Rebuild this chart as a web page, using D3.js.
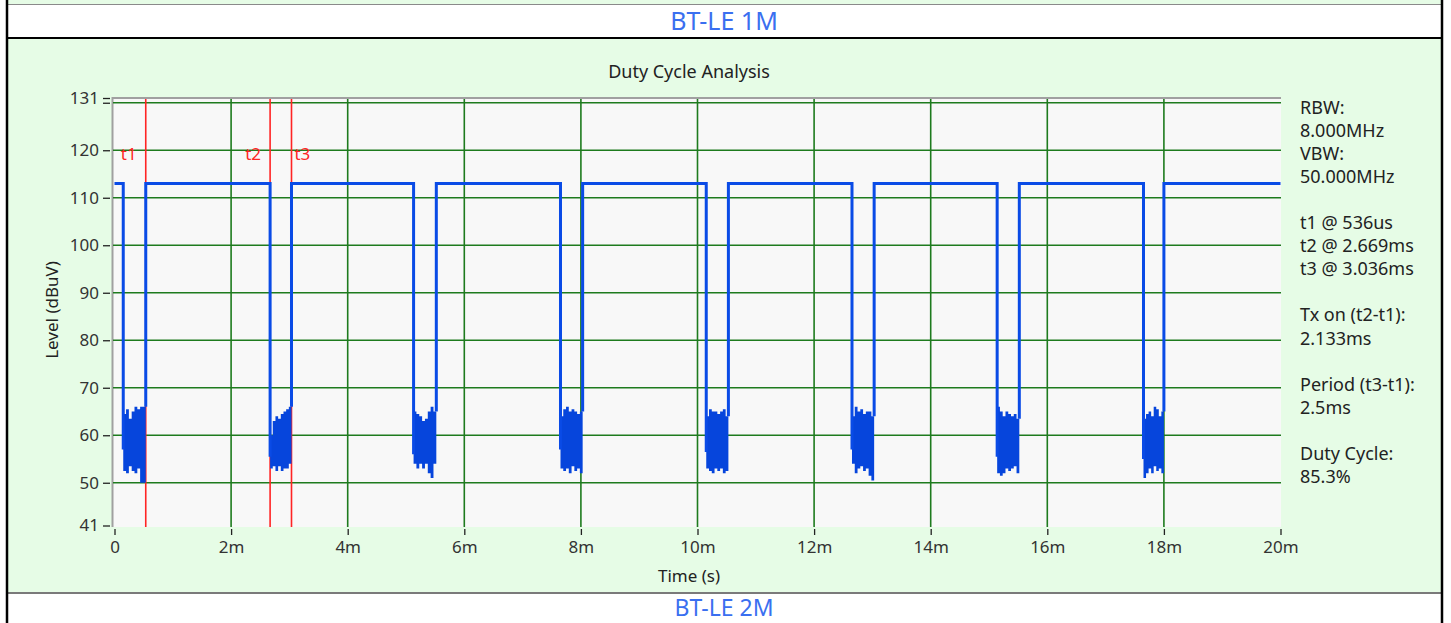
<!DOCTYPE html>
<html>
<head>
<meta charset="utf-8">
<script src="https://cdn.jsdelivr.net/npm/d3@7"></script>
<style>
  html, body { margin: 0; padding: 0; background: #ffffff; }
  svg { display: block; font-family: "Segoe UI", "Noto Sans", "Open Sans", sans-serif; }
</style>
</head>
<body>
<div id="chart"></div>
<script>
// tick labels
const timeTicks = [0, 2, 4, 6, 8, 10, 12, 14, 16, 18, 20]
const levelTicks = [41, 50, 60, 70, 80, 90, 100, 110, 120, 130, 131]
const levelGrid = [50, 60, 70, 80, 90, 100, 110, 120, 130]

// trace: level while transmitting, and the gaps (ms)
const highLevel = 113
const gapStart = [0.15, 2.669, 5.13, 7.65, 10.15, 12.65, 15.14, 17.65]
const gapEnd = [0.536, 3.036, 5.52, 8.03, 10.53, 13.03, 15.52, 18.0]
const dropLevel = [57, 55.5, 56, 57, 56.5, 57, 55.5, 55]
// noise envelope inside each gap (dBuV)
const noiseTop = [
    [64.5, 65.5, 63.5, 65, 66, 65.5, 66, 66],
    [60, 63, 64, 63.5, 64.5, 65, 65.5, 66],
    [65, 64.5, 64, 63, 63.5, 65, 66, 65],
    [64, 65.5, 66, 65, 65.5, 65, 64.5, 65],
    [64, 65.5, 65, 65, 64.5, 65, 65.5, 64],
    [64, 66, 65, 65.5, 64.5, 65, 65, 64],
    [66, 65, 64, 65, 64.5, 64, 64.5, 63.5],
    [63.5, 64.5, 65, 64, 66, 65.5, 64, 65]
]
const noiseBottom = [
    [52.5, 52, 53.5, 52.5, 52, 53, 50, 50],
    [53, 53.5, 52.5, 53.5, 52.5, 53, 53, 54],
    [54, 53, 54, 53, 54, 52, 51, 54],
    [53, 52.5, 53, 52, 53.5, 52.5, 53, 52],
    [53, 52.5, 52, 53, 52.5, 53, 52, 52.5],
    [54, 52, 53, 53.5, 52.5, 53, 51.5, 50.5],
    [52, 51.5, 52, 53, 52.5, 53, 53.5, 52],
    [51, 52, 53, 52, 53.5, 52.5, 53, 52]
]

// markers
const markerNames = ['t1', 't2', 't3']
const markerTimes = [0.536, 2.669, 3.036]

const infoLines = ['RBW:', '8.000MHz', 'VBW:', '50.000MHz', '', 't1 @ 536us', 't2 @ 2.669ms', 't3 @ 3.036ms', '',
    'Tx on (t2-t1):', '2.133ms', '', 'Period (t3-t1):', '2.5ms', '', 'Duty Cycle:', '85.3%']

const W = 1451, H = 623
const FONT = '"Segoe UI", "Noto Sans", sans-serif'

const svg = d3.select('#chart').append('svg')
    .attr('width', W)
    .attr('height', H)

// page frame (table rows)
svg.append('rect').attr('x', 8).attr('y', 0).attr('width', 1433).attr('height', 4).attr('fill', '#e6fce6')
svg.append('line').attr('x1', 8).attr('x2', 1441).attr('y1', 4.5).attr('y2', 4.5).attr('stroke', '#8a8a8a').attr('stroke-width', 1)
svg.append('rect').attr('x', 8).attr('y', 39).attr('width', 1433).attr('height', 553).attr('fill', '#e6fce6')
svg.append('line').attr('x1', 8).attr('x2', 1441).attr('y1', 38).attr('y2', 38).attr('stroke', '#000').attr('stroke-width', 2)
svg.append('line').attr('x1', 8).attr('x2', 1441).attr('y1', 593).attr('y2', 593).attr('stroke', '#7a7a7a').attr('stroke-width', 2)
svg.append('line').attr('x1', 7).attr('x2', 7).attr('y1', 0).attr('y2', H).attr('stroke', '#000').attr('stroke-width', 2.5)
svg.append('line').attr('x1', 1442).attr('x2', 1442).attr('y1', 0).attr('y2', H).attr('stroke', '#000').attr('stroke-width', 2.5)

svg.append('text').attr('x', 724).attr('y', 30).attr('text-anchor', 'middle')
    .attr('font-size', 25).attr('fill', '#3a6ff0').text('BT-LE 1M')
svg.append('text').attr('x', 724).attr('y', 616).attr('text-anchor', 'middle')
    .attr('font-size', 23).attr('fill', '#3a6ff0').text('BT-LE 2M')

// scales
const x = d3.scaleLinear().domain([0, 20]).range([114.5, 1280.5])
const y = d3.scaleLinear().domain([41, 131]).range([525.5, 98])

// plot area
svg.append('rect').attr('x', 113).attr('y', 98).attr('width', 1168).attr('height', 429).attr('fill', '#f8f8f8')
svg.append('line').attr('x1', 112.5).attr('x2', 112.5).attr('y1', 97).attr('y2', 527).attr('stroke', '#a0a0a0').attr('stroke-width', 2)
svg.append('line').attr('x1', 112).attr('x2', 1281).attr('y1', 98).attr('y2', 98).attr('stroke', '#a0a0a0').attr('stroke-width', 2)

// grid
const grid = svg.append('g')
grid.selectAll('.hg').data(levelGrid).enter().append('line')
    .attr('x1', 113).attr('x2', 1281)
    .attr('y1', d => y(d)).attr('y2', d => y(d))
    .attr('stroke', '#1e7b1e').attr('stroke-width', 1.6)
grid.selectAll('.vg').data(timeTicks.slice(1, -1)).enter().append('line')
    .attr('x1', d => x(d)).attr('x2', d => x(d))
    .attr('y1', 99).attr('y2', 527)
    .attr('stroke', '#1e7b1e').attr('stroke-width', 1.6)

// markers
const mk = svg.append('g')
mk.selectAll('line').data(markerTimes).enter().append('line')
    .attr('x1', d => x(d)).attr('x2', d => x(d))
    .attr('y1', 99).attr('y2', 527)
    .attr('stroke', '#ff2424').attr('stroke-width', 1.6)
mk.selectAll('text').data(markerNames).enter().append('text')
    .attr('x', (d, i) => i === 2 ? x(markerTimes[i]) + 3 : x(markerTimes[i]) - 9)
    .attr('y', 160)
    .attr('text-anchor', (d, i) => i === 2 ? 'start' : 'end')
    .attr('font-size', 17).attr('fill', '#ff2424')
    .text(d => d)

// trace
const tracePts = [[0, highLevel]]
gapStart.forEach((s, i) => {
    tracePts.push([s, highLevel], [s, dropLevel[i]], null,
        [gapEnd[i], noiseTop[i][noiseTop[i].length - 1]], [gapEnd[i], highLevel])
})
tracePts.push([20, highLevel])

const line = d3.line()
    .defined(d => d !== null)
    .x(d => x(d[0])).y(d => y(d[1]))

const area = d3.area()
    .curve(d3.curveStepAfter)
    .x(d => x(d.t)).y0(d => y(d.lo)).y1(d => y(d.hi))

const tr = svg.append('g')
noiseTop.forEach((top, i) => {
    const n = top.length
    const pts = top.map((v, j) => ({
        t: gapStart[i] + (gapEnd[i] - gapStart[i]) * j / n,
        hi: v, lo: noiseBottom[i][j]
    }))
    pts.push({ t: gapEnd[i], hi: top[n - 1], lo: noiseBottom[i][n - 1] })
    tr.append('path').attr('d', area(pts)).attr('fill', '#0645dc')
})
tr.append('path').datum(tracePts)
    .attr('d', line)
    .attr('fill', 'none')
    .attr('stroke', '#0a4be6')
    .attr('stroke-width', 3)

// axes
const yAxis = d3.axisLeft(y).tickValues(levelTicks).tickSize(7).tickPadding(4)
    .tickFormat(d => d === 130 ? '' : d)
const gy = svg.append('g').attr('transform', 'translate(110,0)').call(yAxis)
gy.select('.domain').remove()
gy.selectAll('.tick line').attr('stroke', '#222').attr('stroke-width', 1.3)
gy.selectAll('.tick text').attr('font-size', 17).attr('fill', '#333')
    .attr('font-family', FONT)

const xAxis = d3.axisBottom(x).tickValues(timeTicks).tickSize(6).tickPadding(6)
    .tickFormat(d => d === 0 ? '0' : d + 'm')
const gx = svg.append('g').attr('transform', 'translate(0,529)').call(xAxis)
gx.select('.domain').remove()
gx.selectAll('.tick line').attr('stroke', '#222').attr('stroke-width', 1.3)
gx.selectAll('.tick text').attr('font-size', 17).attr('fill', '#333')
    .attr('font-family', FONT)

// titles
svg.append('text').attr('x', 689).attr('y', 78).attr('text-anchor', 'middle')
    .attr('font-size', 18).attr('fill', '#222').text('Duty Cycle Analysis')
svg.append('text').attr('x', 689).attr('y', 582).attr('text-anchor', 'middle')
    .attr('font-size', 17).attr('fill', '#222').text('Time (s)')
svg.append('text').attr('transform', 'translate(58,310) rotate(-90)').attr('text-anchor', 'middle')
    .attr('font-size', 17).attr('fill', '#222').text('Level (dBuV)')

// info text
svg.append('g').selectAll('text').data(infoLines).enter().append('text')
    .attr('x', 1300)
    .attr('y', (d, i) => 113.5 + i * 23.1)
    .attr('font-size', 18).attr('fill', '#222')
    .text(d => d)
</script>
</body>
</html>
